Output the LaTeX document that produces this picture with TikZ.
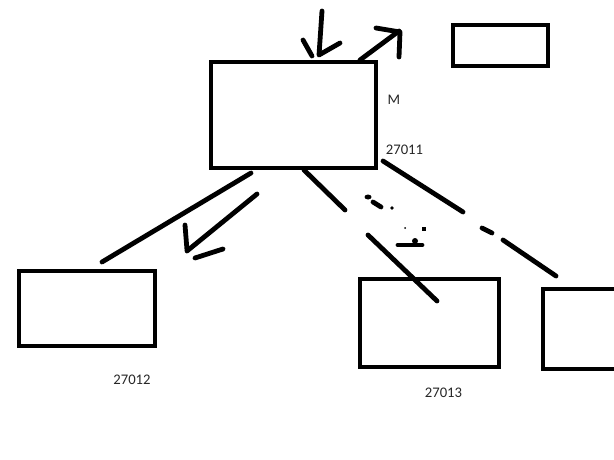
\documentclass[tikz,border=0pt]{standalone}
\usepackage{fontspec}
\setmainfont{Carlito}
\usepackage{tikz}

\tikzset{
  box/.style={line width=3pt, line join=miter},
  pen/.style={line width=3.6pt, line cap=round, line join=round},
  lbl/.style={inner sep=0pt, font=\fontsize{11}{13}\selectfont, text=black!85}
}

\begin{document}
\begin{tikzpicture}[x=0.75pt,y=-0.75pt]
  \useasboundingbox (0,0) rectangle (614,460);

%% boxes
  \draw[box] (210.5,62.5) rectangle (375.5,167.5);
  \draw[box] (452.5,25.5) rectangle (548,66.5);
  \draw[box] (18.5,271) rectangle (155,345.5);
  \draw[box] (360,279) rectangle (499,367);
  \draw[box] (630,369) -- (543,369) -- (543,288.5) -- (630,288.5);

%% labels
  \node (M)     at (394,100) [lbl]  {M};
  \node (27011) at (404.5,150) [lbl]  {27011};
  \node (27012) at (132,380) [lbl]  {27012};
  \node (27013) at (443.5,393) [lbl]  {27013};

%% arrows in and out at the top
  \draw[pen] (322,11) -- (319,55) -- (340,43);
  \draw[pen] (303,40) -- (312,56);
  \draw[pen] (360,60) -- (399,31);
  \draw[pen] (376,28) -- (400,32) -- (399,57);

%% line and arrow down to the left
  \draw[pen] (251,173) -- (102,262);
  \draw[pen] (257,194) -- (187,251);
  \draw[pen] (185,225) -- (187,250);
  \draw[pen] (195,258) -- (223,249);

%% broken lines down to the right
  \draw[pen] (304,170) -- (345,210);
  \draw[pen] (368,235) -- (437,301);
  \draw[pen] (383,161) -- (463,212);
  \draw[pen] (482,228) -- (492,233);
  \draw[pen] (503,240) -- (556,276);

%% dabs
  \fill (368,197) ellipse (3.5 and 2.5);
  \draw[pen] (373,202) -- (381,207);
  \fill (392,208) circle(1.8);
  \fill (405,228) circle(1);
  \fill (422,227) rectangle (426,231);
  \draw[pen] (398,245) -- (422,245);
  \fill (415,241) circle(3);
\end{tikzpicture}
\end{document}
